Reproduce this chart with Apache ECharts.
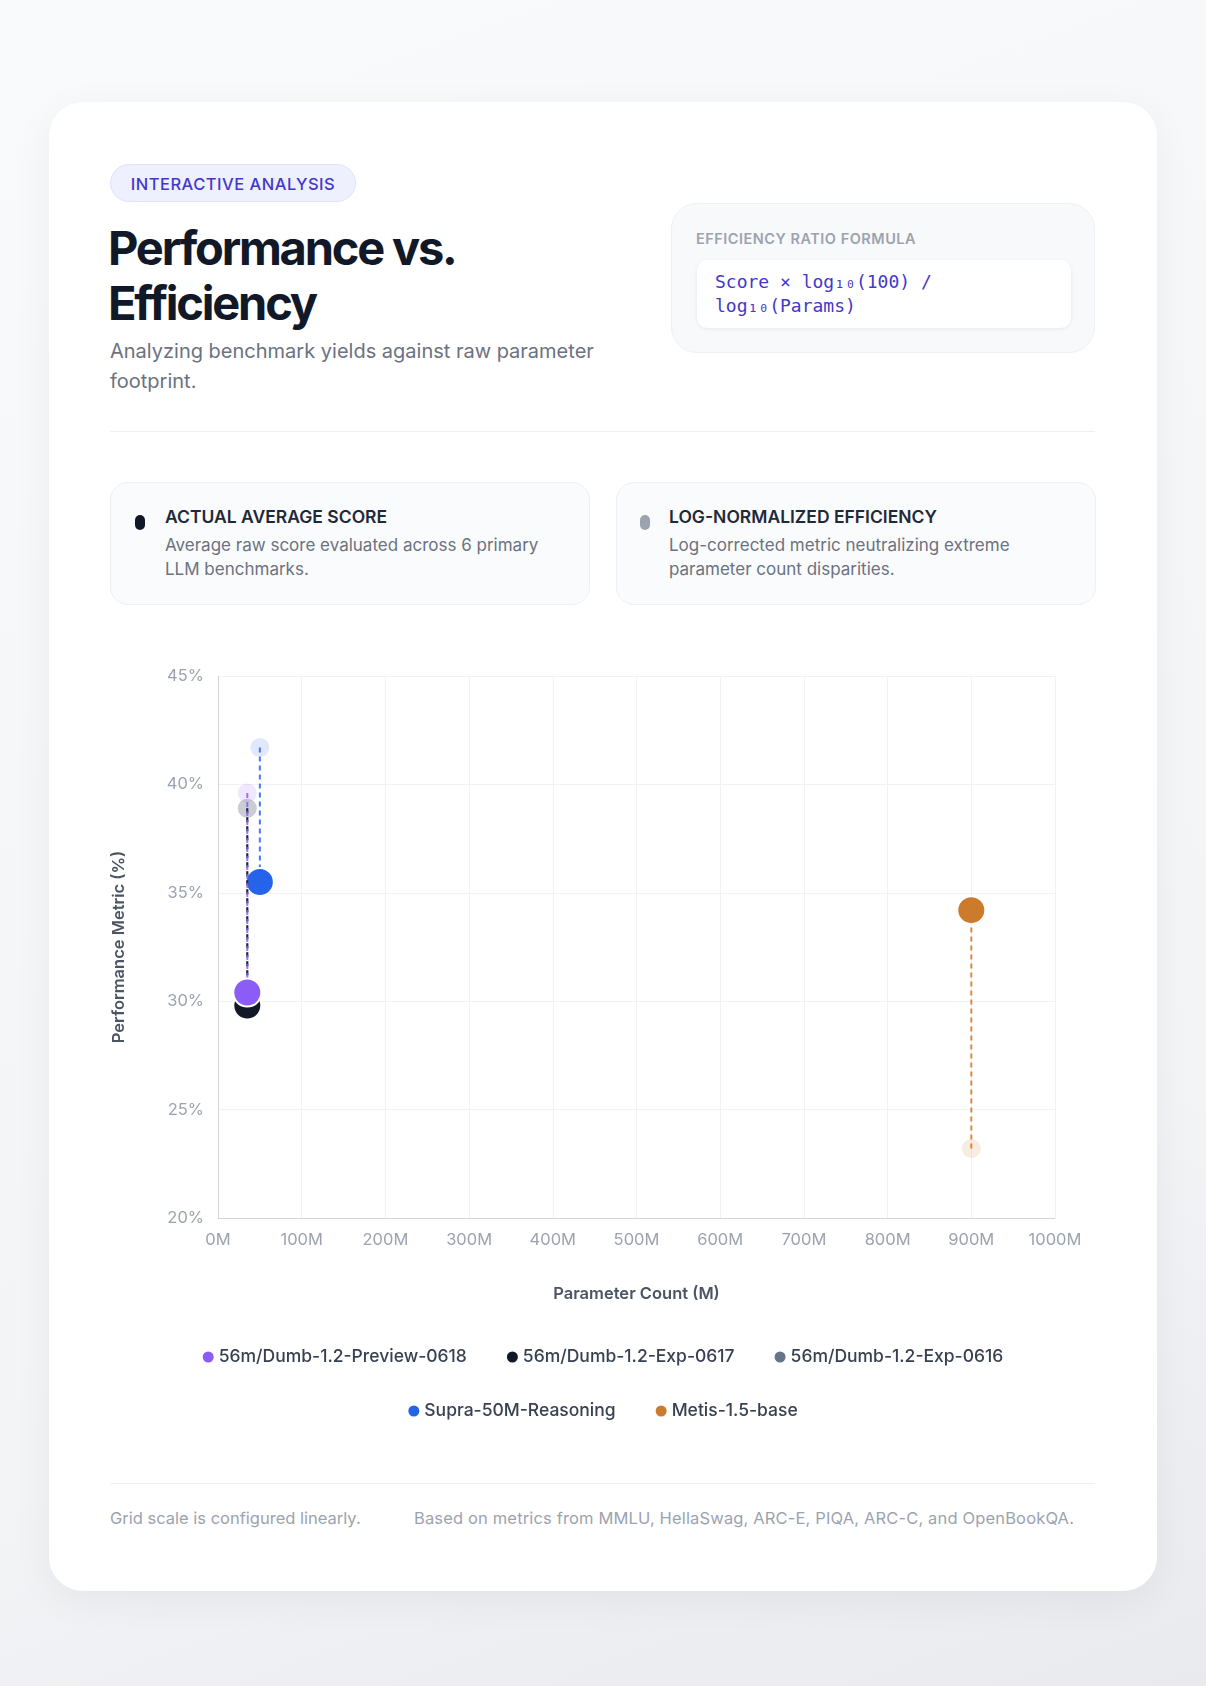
<!DOCTYPE html>
<html>
<head>
<meta charset="utf-8">
<script src="https://cdn.jsdelivr.net/npm/echarts@6/dist/echarts.min.js"></script>
<style>
  html,body{margin:0;padding:0;}
  body{width:1206px;height:1686px;position:relative;font-family:Inter,"Noto Sans",sans-serif;
    background:linear-gradient(160deg,#f9fafb 0%,#f3f4f6 70%,#e9eaee 100%);overflow:hidden;}
  .card{position:absolute;left:49px;top:102px;width:1108px;height:1489px;background:#fff;border-radius:34px;
    box-shadow:0 10px 40px rgba(15,23,42,0.05);}
  .abs{position:absolute;}
  .badge{left:110px;top:164px;width:246px;height:38px;border-radius:19px;background:#eef0fe;border:1px solid #e0e3fb;
    color:#4338ca;font-size:16.5px;font-weight:500;letter-spacing:0.5px;line-height:38px;text-align:center;box-sizing:border-box;}
  .title{left:108px;top:220px;font-size:47px;font-weight:700;color:#111827;line-height:55px;letter-spacing:-2.2px;}
  .sub{left:110px;top:336px;font-size:20px;color:#6b7280;line-height:30px;width:520px;}
  .formula{left:671px;top:203px;width:424px;height:150px;border-radius:26px;background:#f8f9fb;border:1px solid #eef0f3;box-sizing:border-box;}
  .flabel{left:696px;top:230px;font-size:14.5px;font-weight:600;letter-spacing:0.5px;color:#9ca3af;}
  .fbox{left:697px;top:260px;width:374px;height:68px;border-radius:10px;background:#fff;box-shadow:0 1px 4px rgba(0,0,0,0.07);
    box-sizing:border-box;padding:10px 18px;font-family:"DejaVu Sans Mono","Liberation Mono",monospace;font-size:18px;line-height:24px;color:#4338ca;}
  .sep{left:110px;width:985px;height:1px;background:#eef0f3;}
  .lcard{top:482px;width:480px;height:123px;border-radius:18px;background:#fafbfc;border:1px solid #eef0f3;box-sizing:border-box;}
  .dot{width:10px;height:15px;border-radius:5px;}
  .lt{font-size:17.5px;font-weight:600;color:#1f2937;}
  .ld{font-size:17px;color:#6b7280;line-height:24px;width:400px;}
  .foot{top:1508px;font-size:16.5px;color:#9ca3af;}
  #chart{position:absolute;left:49px;top:640px;width:1108px;height:820px;}
</style>
</head>
<body>
<div class="card"></div>
<div class="abs badge">INTERACTIVE ANALYSIS</div>
<div class="abs title">Performance vs.<br>Efficiency</div>
<div class="abs sub">Analyzing benchmark yields against raw parameter footprint.</div>
<div class="abs formula"></div>
<div class="abs flabel">EFFICIENCY RATIO FORMULA</div>
<div class="abs fbox">Score × log₁₀(100) /<br>log₁₀(Params)</div>
<div class="abs sep" style="top:431px"></div>
<div class="abs lcard" style="left:110px"></div>
<div class="abs dot" style="left:135px;top:515px;background:#111827"></div>
<div class="abs lt" style="left:165px;top:506px">ACTUAL AVERAGE SCORE</div>
<div class="abs ld" style="left:165px;top:533px">Average raw score evaluated across 6 primary LLM benchmarks.</div>
<div class="abs lcard" style="left:616px"></div>
<div class="abs dot" style="left:640px;top:515px;background:#9ca3af"></div>
<div class="abs lt" style="left:669px;top:506px">LOG-NORMALIZED EFFICIENCY</div>
<div class="abs ld" style="left:669px;top:533px">Log-corrected metric neutralizing extreme parameter count disparities.</div>
<div id="chart"></div>
<div class="abs sep" style="top:1483px"></div>
<div class="abs foot" style="left:110px">Grid scale is configured linearly.</div>
<div class="abs foot" style="left:414px;letter-spacing:0.15px">Based on metrics from MMLU, HellaSwag, ARC-E, PIQA, ARC-C, and OpenBookQA.</div>
<script>
var models = ['56m/Dumb-1.2-Preview-0618','56m/Dumb-1.2-Exp-0617','56m/Dumb-1.2-Exp-0616','Supra-50M-Reasoning','Metis-1.5-base'];
var colors = ['#8b5cf6','#111827','#64748b','#2563eb','#cc7a2c'];
var params = [35, 35, 35, 50, 900];
var actualScore = [30.4, 29.8, 29.9, 35.5, 34.2];
var efficiency = [39.6, 38.9, 38.9, 41.7, 23.2];
var xTicks = {min:0, max:1000, interval:100};
var yTicks = {min:20, max:45, interval:5};

var series = [];
for (var i = 0; i < models.length; i++) {
  series.push({
    name: models[i],
    type: 'line',
    z: 10 - i,
    symbol: 'circle',
    data: [
      {value:[params[i], efficiency[i]], symbolSize:19, itemStyle:{color:colors[i], opacity:0.14, borderWidth:0}},
      {value:[params[i], actualScore[i]], symbolSize:28, itemStyle:{color:colors[i], opacity:1, borderColor:'#fff', borderWidth:2}}
    ],
    lineStyle: {color: colors[i], width: 2, type: [5, 4], opacity: 0.85},
    itemStyle: {color: colors[i]}
  });
}

var legendText = {fontFamily:'Inter', fontSize:17.5, fontWeight:500, color:'#374151'};
var chart = echarts.init(document.getElementById('chart'));
chart.setOption({
  animation: false,
  color: colors,
  grid: {left:169, right:102, top:36, height:542},
  legend: [
    {data: models.slice(0,3), top:703, left:'center', icon:'circle', itemWidth:11, itemHeight:11, itemGap:40, textStyle:legendText},
    {data: models.slice(3), top:757, left:'center', icon:'circle', itemWidth:11, itemHeight:11, itemGap:40, textStyle:legendText}
  ],
  xAxis: {
    type:'value', min:xTicks.min, max:xTicks.max, interval:xTicks.interval,
    name:'Parameter Count (M)', nameLocation:'middle', nameGap:68,
    nameTextStyle:{fontFamily:'Inter', fontSize:16.5, fontWeight:600, color:'#4b5563'},
    axisLine:{lineStyle:{color:'#d1d5db'}}, axisTick:{show:false},
    axisLabel:{formatter:function(v){return v + 'M';}, color:'#9ca3af', fontFamily:'Inter', fontSize:16.5, margin:14},
    splitLine:{lineStyle:{color:'#f1f2f5'}}
  },
  yAxis: {
    type:'value', min:yTicks.min, max:yTicks.max, interval:yTicks.interval,
    name:'Performance Metric (%)', nameLocation:'middle', nameGap:90,
    nameTextStyle:{fontFamily:'Inter', fontSize:16.5, fontWeight:600, color:'#4b5563'},
    axisLine:{show:true, lineStyle:{color:'#d1d5db'}}, axisTick:{show:false},
    axisLabel:{formatter:'{value}%', color:'#9ca3af', fontFamily:'Inter', fontSize:16.5, margin:14},
    splitLine:{lineStyle:{color:'#f1f2f5'}}
  },
  series: series
});
</script>
</body>
</html>
